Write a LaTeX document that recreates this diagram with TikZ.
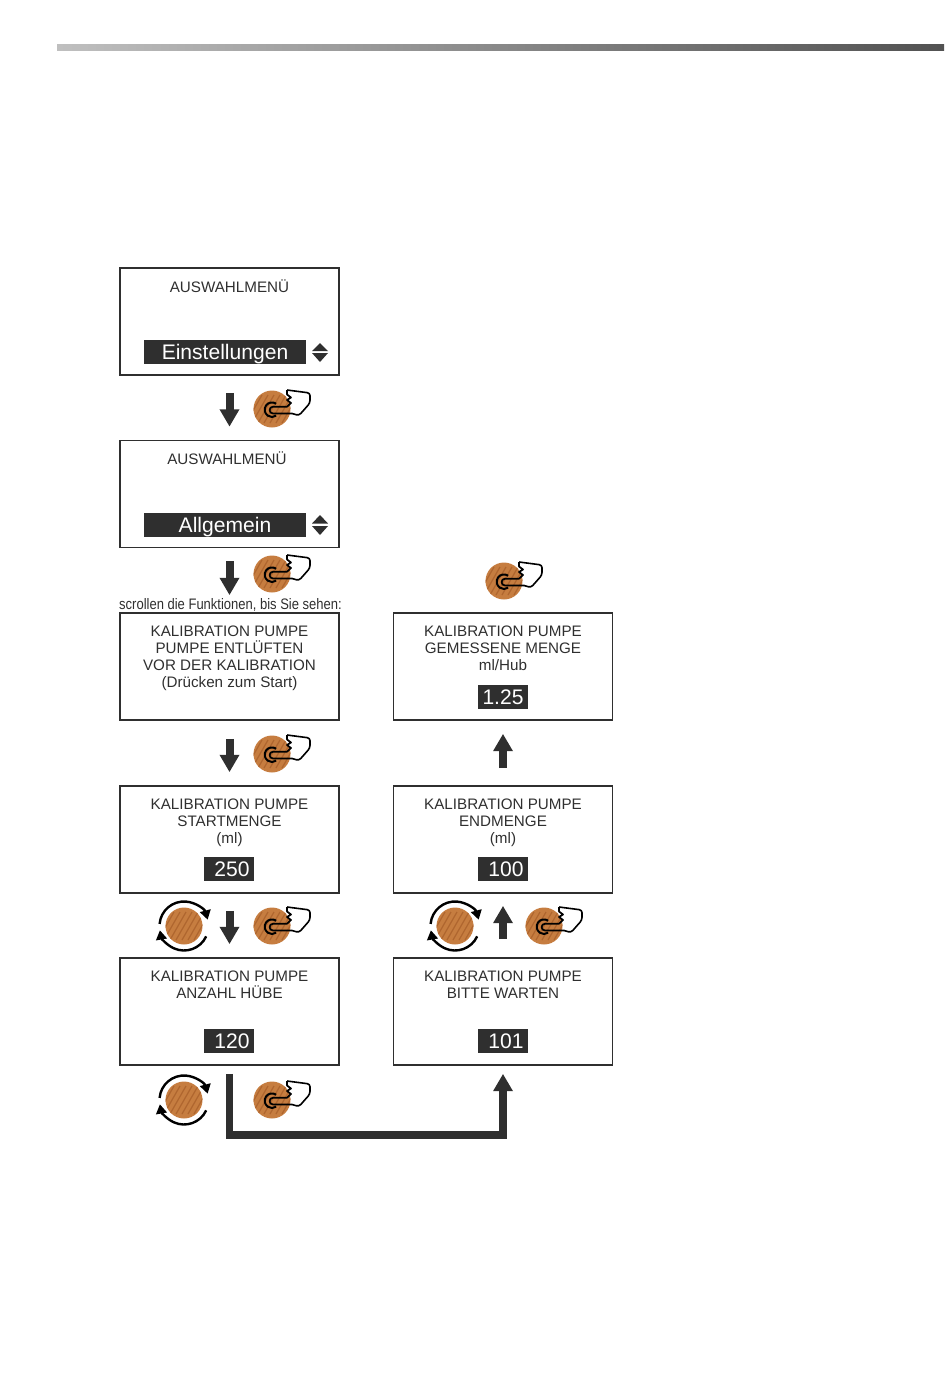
\documentclass[tikz,border=0pt]{standalone}
\usepackage{fontspec}
\setmainfont{Liberation Sans}
\newfontfamily\narrowfont[FakeStretch=0.855]{Liberation Sans}
\usepackage{xcolor}
\usepackage{tikz}
\usetikzlibrary{calc}
\usetikzlibrary{arrows.meta}

\definecolor{inkdark}{HTML}{2F2F2F}
\definecolor{knobbrown}{HTML}{C67D40}
\definecolor{knobstreak}{HTML}{AF662F}

\tikzset{
    pics/knob face/.style={code={
        \fill[knobbrown] (0,0) circle (18.5);
        \begin{scope}
            \clip (0,0) circle (18.5);
            \foreach \s in {-30,-24,...,30}
                \draw[knobstreak,line width=0.9pt] (\s-8,14) -- (\s+8,-14);
        \end{scope}
    }},
    pics/press knob/.style={code={
        \pic {knob face};
        % Hand
        \draw[black,line width=1.2pt,line join=round,rounded corners=2pt]
            (15,-19) -- (38,-16) -- (38,-6) -- (27,6.5) -- (20,4.5);
        \draw[black,line width=1.3pt,line join=round]
            (20,4.5) -- (1,4.5) arc (90:270:3.4) -- (15,-2.3) -- (19,-6) -- (15,-9) -- (19,-11.5) -- (15,-14.5) -- (15,-19);
        % Ring round the finger
        \draw[black,line width=1.5pt] ($(0,0.7)+(-55:7.3)$) arc (-55:-305:7.3);
    }},
    pics/turn knob/.style={code={
        \pic {knob face};
        \draw[turn arrow] (185:24.5) arc[start angle=185,end angle=345,radius=24.5];
        \draw[turn arrow] (25:24.5) arc[start angle=25,end angle=170,radius=24.5];
    }}
}

\begin{document}
\begin{tikzpicture}[x=0.75pt,y=-0.75pt]
    \tikzstyle{menubox}=[draw=inkdark,line width=1.1pt,minimum width=164.2pt,minimum height=80.4pt,inner sep=0pt]
    \tikzstyle{titletext}=[inner sep=0pt,align=center,text=inkdark,font=\fontsize{11.4}{12.75}\selectfont]
    \tikzstyle{valuebox}=[fill=inkdark,text=white,inner sep=0pt,minimum width=37.5pt,minimum height=18pt,text height=11.3pt,text depth=0pt,font=\fontsize{15.8}{18}\selectfont]
    \tikzstyle{menubar}=[valuebox,minimum width=121.5pt]
    \tikzstyle{stepflow}=[-{Triangle[length=13pt,width=14pt]},line width=6pt,color=inkdark]
    \tikzstyle{bigflow}=[-{Triangle[length=13pt,width=14pt]},line width=5.5pt,color=inkdark,line join=miter]
    \tikzstyle{turn arrow}=[-{Triangle[length=7pt,width=8pt]},line width=1.8pt,color=black]
    \tikzstyle{updown}=[fill=inkdark]

    \useasboundingbox (0,0) rectangle (950,1378);

    % Header bar
    \shade[left color=black!25,right color=black!68] (57,44) rectangle (944,50);

    % Boxes, left column
    \node[style=menubox] (menu a) at (229.5,321.5) {};
    \node[style=menubox] (menu b) at (229.5,494) {};
    \node[style=menubox] (purge) at (229.5,666.5) {};
    \node[style=menubox] (start) at (229.5,839.5) {};
    \node[style=menubox] (strokes) at (229.5,1011.5) {};

    % Boxes, right column
    \node[style=menubox] (measured) at (503,666.5) {};
    \node[style=menubox] (end) at (503,839.5) {};
    \node[style=menubox] (wait) at (503,1011.5) {};

    % Menu texts
    \node[style=titletext] (menu a title) at (229.5,286) {AUSWAHLMENÜ};
    \node[style=menubar] (menu a value) at (225,352) {Einstellungen};
    \node[style=titletext] (menu b title) at (227,458.5) {AUSWAHLMENÜ};
    \node[style=menubar] (menu b value) at (225,524.5) {Allgemein};

    \fill[style=updown] (320,343) -- (328,351) -- (312,351) -- cycle;
    \fill[style=updown] (320,362) -- (328,353) -- (312,353) -- cycle;
    \fill[style=updown] (320,515) -- (328,523.5) -- (312,523.5) -- cycle;
    \fill[style=updown] (320,535) -- (328,526) -- (312,526) -- cycle;

    \node[inner sep=0pt,text=inkdark,font=\narrowfont\fontsize{11.4}{13}\selectfont] (scroll) at (230.5,604.5)
        {scrollen die Funktionen, bis Sie sehen:};

    % Pump texts
    \node[style=titletext,anchor=north] (purge title) at ($(purge.north)+(0,13.5)$)
        {KALIBRATION PUMPE\\PUMPE ENTLÜFTEN\\VOR DER KALIBRATION\\(Drücken zum Start)};
    \node[style=titletext,anchor=north] (start title) at ($(start.north)+(0,13)$)
        {KALIBRATION PUMPE\\STARTMENGE\\(ml)};
    \node[style=valuebox] (start value) at (229,869) {\hspace*{4.5pt}250};
    \node[style=titletext,anchor=north] (strokes title) at ($(strokes.north)+(0,13)$)
        {KALIBRATION PUMPE\\ANZAHL HÜBE};
    \node[style=valuebox] (strokes value) at (229,1041) {\hspace*{4.5pt}120};
    \node[style=titletext,anchor=north] (wait title) at ($(wait.north)+(0,13)$)
        {KALIBRATION PUMPE\\BITTE WARTEN};
    \node[style=valuebox] (wait value) at (503,1041) {\hspace*{4.5pt}101};
    \node[style=titletext,anchor=north] (end title) at ($(end.north)+(0,13)$)
        {KALIBRATION PUMPE\\ENDMENGE\\(ml)};
    \node[style=valuebox] (end value) at (503,869) {\hspace*{4.5pt}100};
    \node[style=titletext,anchor=north] (measured title) at ($(measured.north)+(0,13.5)$)
        {KALIBRATION PUMPE\\GEMESSENE MENGE\\ml/Hub};
    \node[style=valuebox] (measured value) at (503,697) {1.25};

    % Step arrows
    \draw[style=stepflow] ($(menu a.south)+(0,17)$) -- ($(menu b.north)+(0,-13)$);
    \draw[style=stepflow] ($(menu b.south)+(0,13)$) -- ($(purge.north)+(0,-17)$);
    \draw[style=stepflow] ($(purge.south)+(0,18)$) -- ($(start.north)+(0,-13)$);
    \draw[style=stepflow] ($(start.south)+(0,17)$) -- ($(strokes.north)+(0,-13)$);
    \draw[style=stepflow] ($(wait.north)+(0,-18)$) -- ($(end.south)+(0,12)$);
    \draw[style=stepflow] ($(end.north)+(0,-17)$) -- ($(measured.south)+(0,13)$);

    % Long way back up
    \draw[style=bigflow] ($(strokes.south)+(0,8)$) |- (367,1135) -| ($(wait.south)+(0,8)$);

    % Knobs
    \pic (press a) at (272,409) {press knob};
    \pic (press b) at (272,574) {press knob};
    \pic (press c) at (272,754) {press knob};
    \pic (press d) at (272,926) {press knob};
    \pic (press e) at (272,1100) {press knob};
    \pic (press f) at (504,581) {press knob};
    \pic (press g) at (544,926) {press knob};
    \pic (turn a) at (184,926) {turn knob};
    \pic (turn b) at (184,1100) {turn knob};
    \pic (turn c) at (455,926) {turn knob};
\end{tikzpicture}
\end{document}
